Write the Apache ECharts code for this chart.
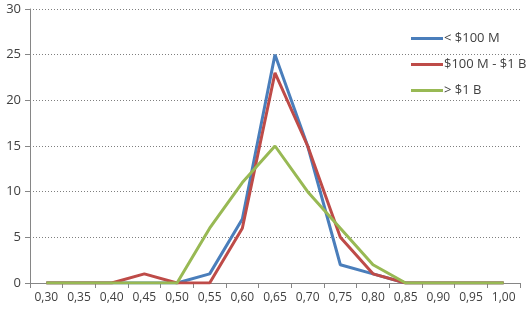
<!DOCTYPE html>
<html><head><meta charset="utf-8">
<script src="https://cdn.jsdelivr.net/npm/echarts@6/dist/echarts.min.js"></script>
<style>html,body{margin:0;padding:0;background:#fff}#c{width:529px;height:310px}</style>
</head><body><div id="c"></div>
<script>
const categories = ['0,30','0,35','0,40','0,45','0,50','0,55','0,60','0,65','0,70','0,75','0,80','0,85','0,90','0,95','1,00'];
const seriesNames = ['< $100 M', '$100 M - $1 B', '> $1 B'];
const small = [0,0,0,0,0,1,7,25,15,2,1,0,0,0,0];
const mid   = [0,0,0,1,0,0,6,23,15,5,1,0,0,0,0];
const large = [0,0,0,0,0,6,11,15,10,6,2,0,0,0,0];
const colors = ['#4a7ebb','#be4b48','#98b954'];
const font = '"Open Sans", "Liberation Sans", Arial, sans-serif';
const chart = echarts.init(document.getElementById('c'), null, {renderer:'canvas'});
const mk = (name, data, color) => ({
  name, type:'line', data, symbol:'none', smooth:false,
  lineStyle:{color, width:3}, itemStyle:{color}
});
chart.setOption({
  animation:false,
  textStyle:{fontFamily:font},
  grid:{left:30, right:9, top:9, bottom:27},
  legend:{
    orient:'vertical', left:406, top:27, itemGap:13, itemWidth:32, itemHeight:3,
    icon:'rect', textStyle:{fontSize:13, color:'#404040', fontFamily:font, padding:[0,0,0,-4]},
    data:seriesNames
  },
  xAxis:{
    type:'category', data:categories, boundaryGap:true,
    axisLine:{lineStyle:{color:'#868686', width:1}},
    axisTick:{show:true, alignWithLabel:false, length:5, lineStyle:{color:'#868686'}},
    axisLabel:{color:'#404040', fontSize:12, margin:9, fontFamily:font}
  },
  yAxis:{
    type:'value', min:0, max:30, interval:5,
    axisLine:{show:true, lineStyle:{color:'#868686'}},
    axisTick:{show:true, inside:false, length:5, lineStyle:{color:'#868686'}},
    axisLabel:{color:'#404040', fontSize:13, margin:9, fontFamily:font},
    splitLine:{show:true, lineStyle:{color:'#7f7f7f', type:[1,2], width:1}}
  },
  series:[mk(seriesNames[0], small, colors[0]), mk(seriesNames[1], mid, colors[1]), mk(seriesNames[2], large, colors[2])]
});
</script></body></html>
